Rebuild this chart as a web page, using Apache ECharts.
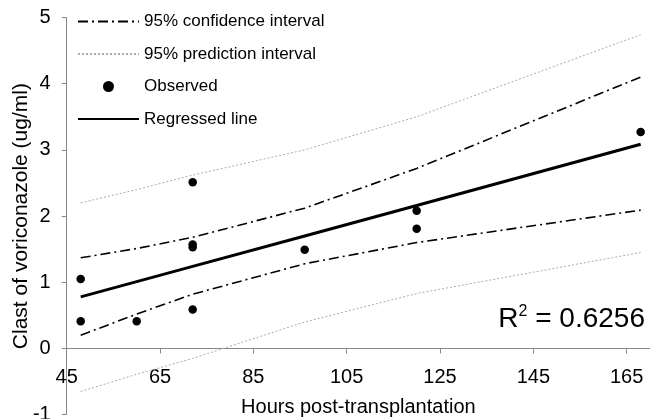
<!DOCTYPE html>
<html>
<head>
<meta charset="utf-8">
<script src="https://cdn.jsdelivr.net/npm/echarts@6/dist/echarts.min.js"></script>
<style>
  html, body { margin: 0; padding: 0; background: #fff; }
  #chart { width: 650px; height: 419px; }
</style>
</head>
<body>
<div id="chart"></div>
<script>
// x positions used for the fitted line and the bands
const hours = [48, 60, 72, 96, 120, 168];
const fitted = [0.78, 1.01, 1.24, 1.70, 2.16, 3.085];
const ciUpper = [1.37, 1.51, 1.68, 2.12, 2.72, 4.10];
const ciLower = [0.20, 0.52, 0.82, 1.28, 1.60, 2.09];
const piUpper = [2.20, 2.40, 2.62, 3.00, 3.50, 4.74];
const piLower = [-0.65, -0.39, -0.15, 0.40, 0.83, 1.45];

// observed points
const obsHours = [48, 48, 60, 72, 72, 72, 72, 96, 120, 120, 168];
const obsConc = [1.05, 0.41, 0.41, 2.51, 1.57, 1.53, 0.59, 1.49, 2.08, 1.81, 3.27];

const xTicks = [45, 65, 85, 105, 125, 145, 165];
const yTicks = [-1, 0, 1, 2, 3, 4, 5];

const font = "'Liberation Sans', Arial, sans-serif";

function pairs(xs, ys) {
  return xs.map(function (x, i) { return [x, ys[i]]; });
}

var myChart = echarts.init(document.getElementById("chart"));

var gridTop = 17.5, gridBottom = 4.3;
// distance from the bottom of the grid (y = -1) up to y = 0
var zeroOffset = (419 - gridTop - gridBottom) / (yTicks[yTicks.length - 1] - yTicks[0]);

var ciStyle = { color: "#000", width: 1.6, type: [10, 4, 2, 4] };
var piStyle = { color: "#aaa", width: 1, type: [2, 2] };
var noSymbol = { color: "rgba(0,0,0,0)", borderWidth: 0 };

var option = {
  animation: false,
  textStyle: { fontFamily: font },
  title: {
    text: "{r|R}{s|2}{r| = 0.6256}",
    right: 5,
    top: 304,
    padding: 0,
    textStyle: {
      fontWeight: "normal",
      rich: {
        r: { fontSize: 28, fontWeight: "normal", fontFamily: font, color: "#000", lineHeight: 30 },
        s: { fontSize: 16, fontWeight: "normal", fontFamily: font, color: "#000", verticalAlign: "top", lineHeight: 16 },
      },
    },
  },
  legend: {
    orient: "vertical",
    left: 77,
    top: 13,
    padding: 0,
    itemWidth: 61,
    itemHeight: 11,
    itemGap: 15.5,
    data: [
      { name: "95% confidence interval", itemStyle: noSymbol },
      { name: "95% prediction interval", itemStyle: noSymbol },
      { name: "Observed" },
      { name: "Regressed line", itemStyle: noSymbol },
    ],
    textStyle: { fontSize: 17, color: "#000", fontFamily: font, lineHeight: 17 },
  },
  grid: {
    left: 66.7,
    right: 0,
    top: gridTop,
    bottom: gridBottom,
    containLabel: false,
    outerBoundsMode: "none",
  },
  xAxis: [
    {
      // axis line and ticks sitting on y = 0
      type: "value",
      min: 45,
      max: 170,
      axisLine: { onZero: true, lineStyle: { color: "#888", width: 1 } },
      axisTick: { show: true, length: 5, customValues: xTicks, lineStyle: { color: "#888" } },
      axisLabel: { show: false },
      splitLine: { show: false },
    },
    {
      // labels and name placed under y = 0
      type: "value",
      position: "bottom",
      offset: -zeroOffset,
      min: 45,
      max: 170,
      name: "Hours post-transplantation",
      nameLocation: "middle",
      nameGap: 49,
      nameMoveOverlap: false,
      nameTextStyle: { fontSize: 20, color: "#000", fontFamily: font },
      axisLine: { show: false, onZero: false },
      axisTick: { show: false },
      axisLabel: { customValues: xTicks, fontSize: 20, color: "#000", margin: 19, fontFamily: font },
      splitLine: { show: false },
    },
  ],
  yAxis: {
    type: "value",
    min: -1,
    max: 5,
    interval: 1,
    name: "Clast of voriconazole (ug/ml)",
    nameLocation: "middle",
    nameGap: 35,
    nameMoveOverlap: false,
    nameTextStyle: { fontSize: 21, color: "#000", fontFamily: font },
    axisLine: { show: true, lineStyle: { color: "#888", width: 1 } },
    axisTick: { show: true, length: 5, customValues: yTicks, lineStyle: { color: "#888" } },
    axisLabel: { customValues: yTicks, fontSize: 20, color: "#000", margin: 16, fontFamily: font },
    splitLine: { show: false },
  },
  series: [
    {
      name: "95% confidence interval",
      type: "line",
      symbol: "none",
      lineStyle: ciStyle,
      itemStyle: { color: "#000" },
      data: pairs(hours, ciUpper),
    },
    {
      name: "95% confidence interval",
      type: "line",
      symbol: "none",
      lineStyle: ciStyle,
      itemStyle: { color: "#000" },
      data: pairs(hours, ciLower),
    },
    {
      name: "95% prediction interval",
      type: "line",
      symbol: "none",
      lineStyle: piStyle,
      itemStyle: { color: "#aaa" },
      data: pairs(hours, piUpper),
    },
    {
      name: "95% prediction interval",
      type: "line",
      symbol: "none",
      lineStyle: piStyle,
      itemStyle: { color: "#aaa" },
      data: pairs(hours, piLower),
    },
    {
      name: "Observed",
      type: "scatter",
      symbol: "circle",
      symbolSize: 8.5,
      itemStyle: { color: "#000", opacity: 1 },
      data: pairs(obsHours, obsConc),
    },
    {
      name: "Regressed line",
      type: "line",
      symbol: "none",
      lineStyle: { color: "#000", width: 3 },
      itemStyle: { color: "#000" },
      data: pairs(hours, fitted),
    },
  ],
};

myChart.setOption(option);
</script>
</body>
</html>
